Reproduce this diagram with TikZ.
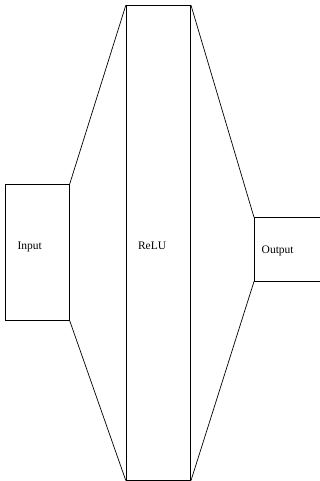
\documentclass[tikz,border=0pt]{standalone}
\usepackage{fontspec}
\setmainfont{Liberation Serif}
\begin{document}
\begin{tikzpicture}[x=1pt,y=-1pt,
  layerbox/.style={draw=black,line width=0.7pt,rectangle,inner sep=0pt,anchor=north west},
  lbl/.style={inner sep=0pt,anchor=base west,font=\fontsize{11.5}{13}\selectfont},
  edge/.style={draw=black,line width=0.7pt}]
\useasboundingbox (0,0) rectangle (320,481);
\node[layerbox,minimum width=64pt,minimum height=136pt] (in) at (5,184) {};
\node[layerbox,minimum width=64.5pt,minimum height=474.5pt] (relu) at (125.8,5.3) {};
\node[layerbox,minimum width=72pt,minimum height=63.5pt] (out) at (254,217.3) {};
\node[lbl] (tin) at (17.3,249) {Input};
\node[lbl] (trelu) at (137.8,249) {ReLU};
\node[lbl] (tout) at (261.5,253) {Output};
\draw[edge] (in.north east) -- (relu.north west);
\draw[edge] (in.south east) -- (relu.south west);
\draw[edge] (relu.north east) -- (out.north west);
\draw[edge] (relu.south east) -- (out.south west);
\end{tikzpicture}
\end{document}
